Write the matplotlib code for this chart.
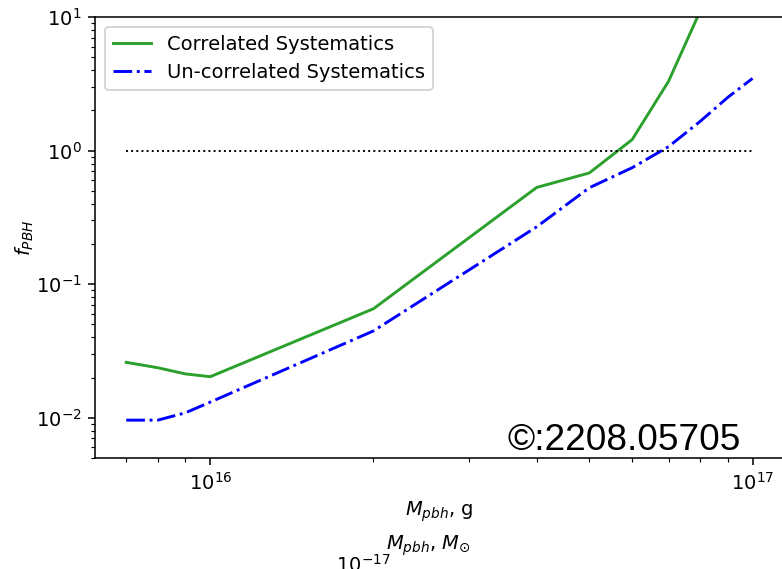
import numpy as np
import matplotlib
matplotlib.use("Agg")
import matplotlib.pyplot as plt
from matplotlib.ticker import NullFormatter

# PBH mass grid (grams) and abundance limits
mass_g = [7e15, 8e15, 9e15, 1e16, 2e16, 4e16, 5e16, 6e16, 7e16, 8e16, 9e16, 1e17]
f_corr = [0.026, 0.0237, 0.0213, 0.0203, 0.0655, 0.53, 0.68, 1.21, 3.3, 11.0, 30.0, 80.0]
f_uncorr = [0.0096, 0.0096, 0.0109, 0.0131, 0.0447, 0.269, 0.527, 0.745, 1.07, 1.65, 2.5, 3.47]

M_SUN = 1.989e33  # grams
xlim = (6.13e15, 1.143e17)

fig = plt.figure(figsize=(782 / 140, 569 / 140), dpi=140)
ax = fig.add_axes([95 / 782, 1 - 458 / 569, (784 - 95) / 782, (458 - 17) / 569])

ax.plot(mass_g, f_corr, color="#2ca02c", label="Correlated Systematics")
ax.plot(mass_g, f_uncorr, "-.", color="b", label="Un-correlated Systematics")
ax.hlines(1, mass_g[0], mass_g[-1], colors="k", linestyles=":", linewidth=1)

ax.set_xscale("log")
ax.set_yscale("log")
ax.set_xlim(*xlim)
ax.set_ylim(5e-3, 10)
ax.set_xlabel(r"$M_{pbh}$, g", labelpad=3)
ax.set_ylabel(r"$f_{PBH}$", labelpad=0)
ax.legend(loc="upper left")

# arXiv tag, placed in figure pixels
fig.text(507 / 782, 1 - 450 / 569, "\u00a9:2208.05705", fontsize=19,
         family="Liberation Sans", color="k")

# second mass scale in solar masses
ax2 = fig.add_axes([95 / 782, 1 - 554 / 569, (761 - 95) / 782, 1e-4])
ax2.set_xscale("log")
ax2.set_xlim(xlim[0] / M_SUN, xlim[1] / M_SUN)
ax2.set_yticks([])
ax2.xaxis.set_minor_formatter(NullFormatter())
for s in ax2.spines.values():
    s.set_visible(False)
ax2.tick_params(axis="x", which="both", length=0, pad=0)
ax2.patch.set_visible(False)
ax2.xaxis.set_label_position("top")
ax2.set_xlabel(r"$M_{pbh}$, $M_{\odot}$", labelpad=2)

fig.savefig("out.png", dpi=140)
